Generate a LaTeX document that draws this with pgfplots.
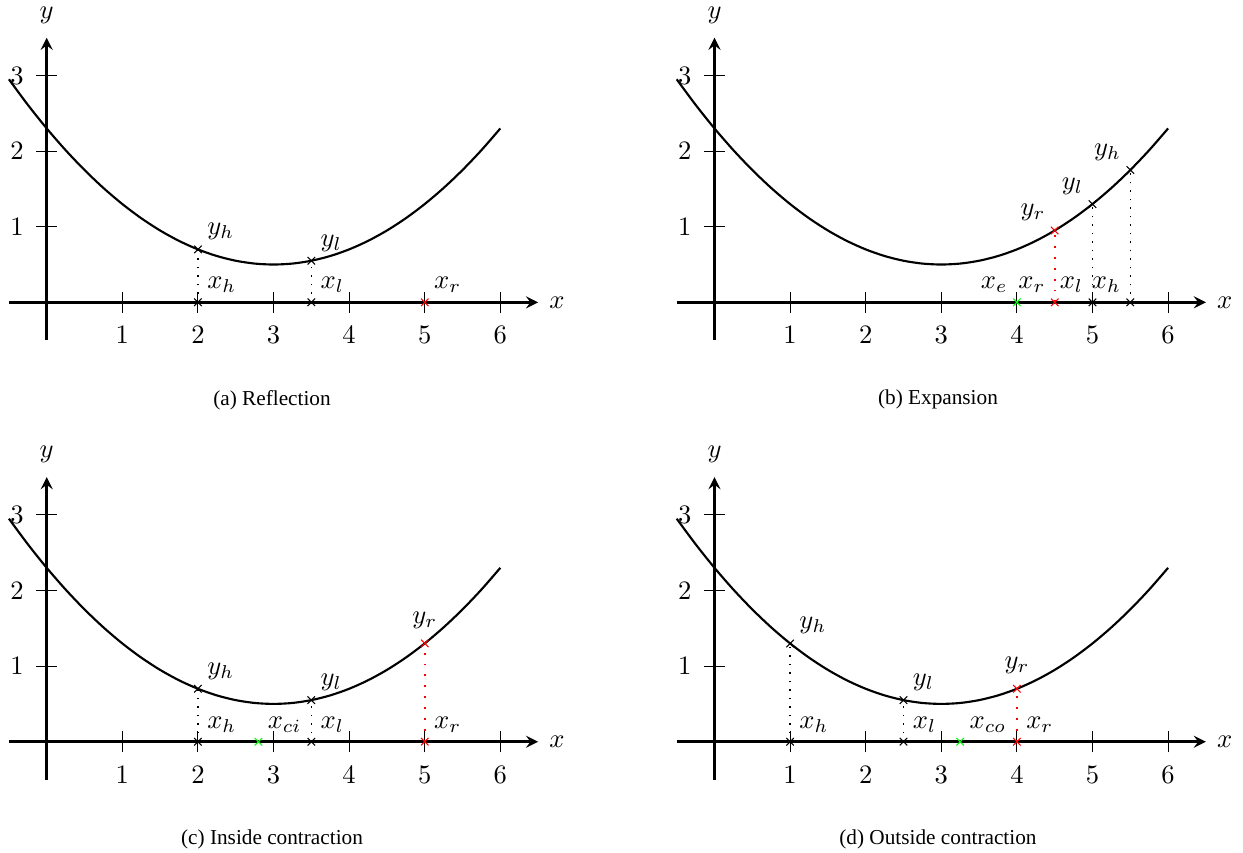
\documentclass[border=0pt]{standalone}
\usepackage[no-math]{fontspec}
\newfontfamily\capfont{Liberation Serif}
\usepackage{pgfplots}
\pgfplotsset{compat=1.18}

% f(x) = 0.2 (x-3)^2 + 0.5, sampled
\pgfplotstableread{
x     y
-0.5  2.95
-0.25 2.6125
0     2.3
0.25  2.0125
0.5   1.75
0.75  1.5125
1     1.3
1.25  1.1125
1.5   0.95
1.75  0.8125
2     0.7
2.25  0.6125
2.5   0.55
2.75  0.5125
3     0.5
3.25  0.5125
3.5   0.55
3.75  0.6125
4     0.7
4.25  0.8125
4.5   0.95
4.75  1.1125
5     1.3
5.25  1.5125
5.5   1.75
5.75  2.0125
6     2.3
}\curvedata

\pgfplotsset{
  simplex/.style={
    x=1cm, y=1cm,
    xmin=-0.5, xmax=6.5, ymin=-0.5, ymax=3.5,
    axis lines=middle,
    axis line style={line width=1pt, -stealth},
    xtick={1,...,6}, ytick={1,2,3},
    tick align=center, major tick length=0.28cm,
    every tick/.style={black, line width=0.4pt},
    xticklabel style={yshift=-0.06cm},
    yticklabel style={xshift=-0.04cm},
    clip=false,
    anchor=origin,
  },
  fcurve/.style={black, thick, smooth, no marks},
  guide/.style={black, no marks, line width=0.5pt, dash pattern=on 0.5pt off 2.7pt},
  rguide/.style={red, no marks, line width=0.7pt, dash pattern=on 0.7pt off 3.4pt},
  pts/.style={only marks, mark=x, mark size=2pt, mark options={line width=0.4pt}},
}

\begin{document}
\begin{tikzpicture}
\path[use as bounding box] (0,0) rectangle (16.442,-11.283);

% (a) Reflection
\begin{axis}[simplex, at={(0.618cm,-3.999cm)}]
  \addplot[fcurve] table {\curvedata};
  \addplot[guide] coordinates {(2,0) (2,0.7)};
  \addplot[guide] coordinates {(3.5,0) (3.5,0.55)};
  \addplot[pts, black] coordinates {(2,0) (2,0.7) (3.5,0) (3.5,0.55)};
  \addplot[pts, red] coordinates {(5,0)};
  \node[above right] at (axis cs:2,0.7) {$y_h$};
  \node[above right] at (axis cs:2,0) {$x_h$};
  \node[above right] at (axis cs:3.5,0.55) {$y_l$};
  \node[above right] at (axis cs:3.5,0) {$x_l$};
  \node[above right] at (axis cs:5,0) {$x_r$};
  \node at (axis cs:6.75,0) {$x$};
  \node at (axis cs:0,3.8) {$y$};
\end{axis}

% (b) Expansion
\begin{axis}[simplex, at={(9.451cm,-3.999cm)}]
  \addplot[fcurve] table {\curvedata};
  \addplot[rguide] coordinates {(4.5,0) (4.5,0.95)};
  \addplot[guide] coordinates {(5,0) (5,1.3)};
  \addplot[guide] coordinates {(5.5,0) (5.5,1.75)};
  \addplot[pts, black] coordinates {(5,0) (5,1.3) (5.5,0) (5.5,1.75)};
  \addplot[pts, red] coordinates {(4.5,0) (4.5,0.95)};
  \addplot[pts, green] coordinates {(4,0)};
  \node[above left] at (axis cs:4,0) {$x_e$};
  \node[above left] at (axis cs:4.5,0) {$x_r$};
  \node[above left] at (axis cs:5,0) {$x_l$};
  \node[above left] at (axis cs:5.5,0) {$x_h$};
  \node[above left] at (axis cs:4.5,0.95) {$y_r$};
  \node[above left] at (axis cs:5,1.3) {$y_l$};
  \node[above left] at (axis cs:5.5,1.75) {$y_h$};
  \node at (axis cs:6.75,0) {$x$};
  \node at (axis cs:0,3.8) {$y$};
\end{axis}

% (c) Inside contraction
\begin{axis}[simplex, at={(0.618cm,-9.811cm)}]
  \addplot[fcurve] table {\curvedata};
  \addplot[guide] coordinates {(2,0) (2,0.7)};
  \addplot[guide] coordinates {(3.5,0) (3.5,0.55)};
  \addplot[rguide] coordinates {(5,0) (5,1.3)};
  \addplot[pts, black] coordinates {(2,0) (2,0.7) (3.5,0) (3.5,0.55)};
  \addplot[pts, red] coordinates {(5,0) (5,1.3)};
  \addplot[pts, green] coordinates {(2.8,0)};
  \node[above right] at (axis cs:2,0.7) {$y_h$};
  \node[above right] at (axis cs:2,0) {$x_h$};
  \node[above right] at (axis cs:2.8,0) {$x_{ci}$};
  \node[above right] at (axis cs:3.5,0.55) {$y_l$};
  \node[above right] at (axis cs:3.5,0) {$x_l$};
  \node[above right] at (axis cs:5,0) {$x_r$};
  \node[above, yshift=2pt] at (axis cs:5,1.3) {$y_r$};
  \node at (axis cs:6.75,0) {$x$};
  \node at (axis cs:0,3.8) {$y$};
\end{axis}

% (d) Outside contraction
\begin{axis}[simplex, at={(9.451cm,-9.811cm)}]
  \addplot[fcurve] table {\curvedata};
  \addplot[guide] coordinates {(1,0) (1,1.3)};
  \addplot[guide] coordinates {(2.5,0) (2.5,0.55)};
  \addplot[rguide] coordinates {(4,0) (4,0.7)};
  \addplot[pts, black] coordinates {(1,0) (1,1.3) (2.5,0) (2.5,0.55)};
  \addplot[pts, red] coordinates {(4,0) (4,0.7)};
  \addplot[pts, green] coordinates {(3.25,0)};
  \node[above right] at (axis cs:1,1.3) {$y_h$};
  \node[above right] at (axis cs:1,0) {$x_h$};
  \node[above right] at (axis cs:2.5,0.55) {$y_l$};
  \node[above right] at (axis cs:2.5,0) {$x_l$};
  \node[above right] at (axis cs:3.25,0) {$x_{co}$};
  \node[above right] at (axis cs:4,0) {$x_r$};
  \node[above, yshift=2pt] at (axis cs:4,0.7) {$y_r$};
  \node at (axis cs:6.75,0) {$x$};
  \node at (axis cs:0,3.8) {$y$};
\end{axis}

\node[font=\capfont\fontsize{8}{9.6}\selectfont] at (3.598,-5.289) {(a) Reflection};
\node[font=\capfont\fontsize{8}{9.6}\selectfont] at (12.407,-5.289) {(b) Expansion};
\node[font=\capfont\fontsize{8}{9.6}\selectfont] at (3.598,-11.109) {(c) Inside contraction};
\node[font=\capfont\fontsize{8}{9.6}\selectfont] at (12.407,-11.109) {(d) Outside contraction};
\end{tikzpicture}
\end{document}
